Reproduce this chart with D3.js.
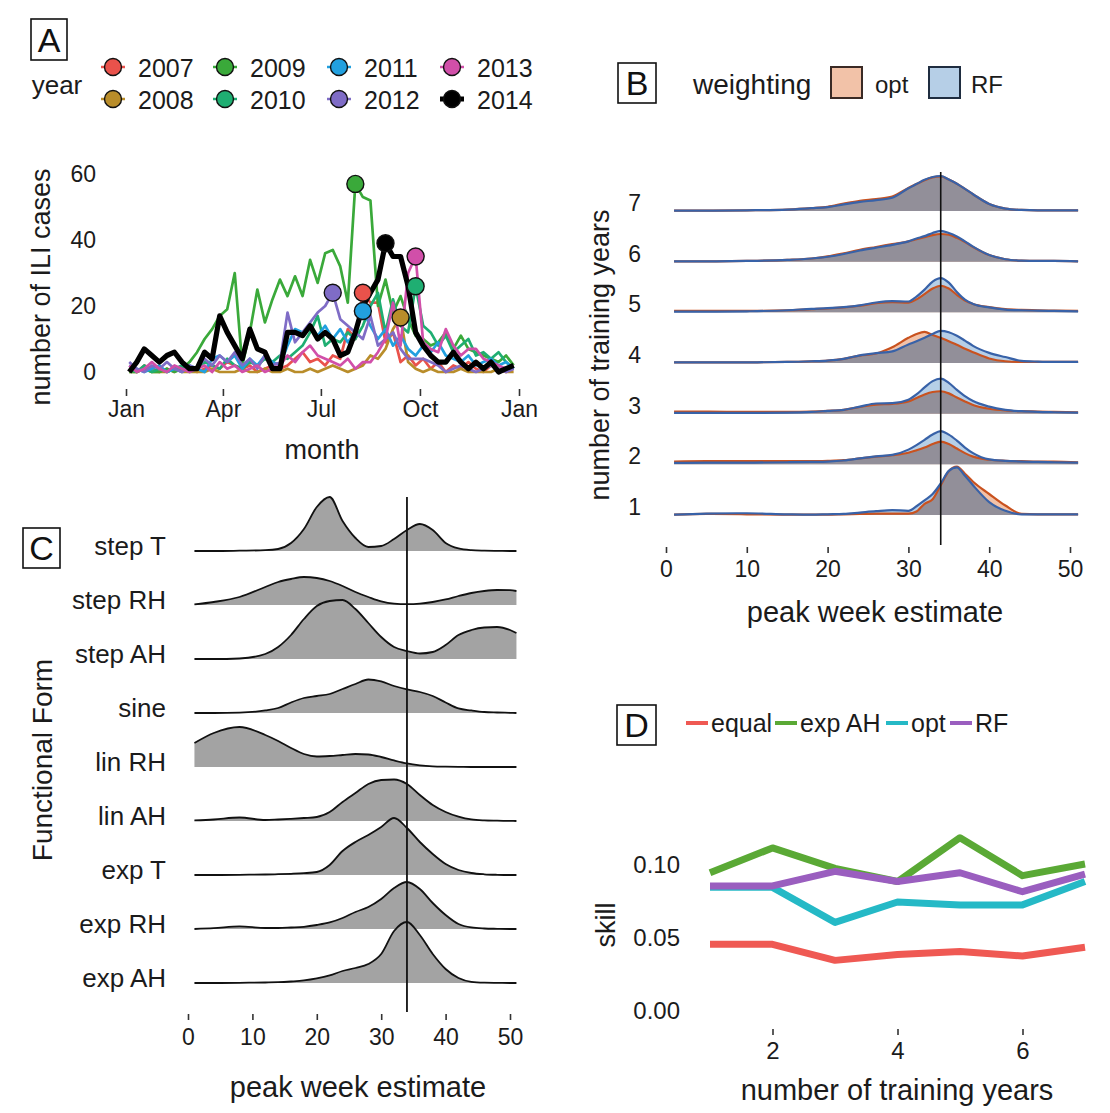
<!DOCTYPE html>
<html>
<head>
<meta charset="utf-8">
<script src="https://cdn.jsdelivr.net/npm/d3@7"></script>
<style>
  html, body { margin: 0; padding: 0; background: #ffffff; }
  svg { display: block; font-family: "Liberation Sans", Arial, sans-serif; }
</style>
</head>
<body>
<svg id="fig" width="1110" height="1113"></svg>
<script>
// ---------------- Panel A: weekly ILI cases per season ----------------
const years = ["2007", "2008", "2009", "2010", "2011", "2012", "2013", "2014"];
const yearColors = ["#e9524b", "#b98d2a", "#3aa93a", "#1fae72", "#22a0df", "#7f6cc6", "#d14fa9", "#000000"];
const cases2007 = [1,0,2,1,0,1,0,2,1,0,1,2,1,3,2,1,2,0,1,2,1,2,4,6,3,4,2,5,4,13,10,24,21,21,9,12,3,5,2,4,1,3,0,2,1,3,1,0,2,1,0,1];
const cases2008 = [0,0,1,0,0,0,1,0,0,0,0,1,0,0,0,1,0,0,1,0,0,1,0,0,1,0,1,2,1,0,1,2,5,4,7,13,16.5,3,1,0,1,0,0,0,1,0,0,0,0,1,0,0];
const cases2009 = [0,0,1,0,0,1,0,1,3,6,10,13,17,19,30,2,12,25,15,22,28,23,29,23,34,27,36,37,32,21,57,53,52,20,28,18,23,16,11,10,8,9,12,7,11,7,6,5,4,3,5,2];
const cases2010 = [1,0,2,0,1,0,1,2,0,1,3,2,1,4,2,1,3,2,4,3,5,4,6,8,12,17,8,10,9,12,10,14,20,24,12,22,14,12,26,14,12,8,11,6,8,10,5,6,4,6,3,1];
const cases2011 = [2,1,0,1,2,0,1,0,2,1,0,4,5,3,5,1,4,2,5,3,2,8,13,12,14,11,14,10,13,9,12,18.5,14,10,13,8,11,7,5,8,6,9,5,4,3,5,2,3,4,2,3,1];
const cases2012 = [3,1,0,2,1,3,1,0,2,1,4,2,5,3,6,2,4,1,5,2,3,18,9,12,15,18,20,24,16,14,12,10,17,8,10,12,7,4,4,4,3,2,0,1,2,1,0,1,2,1,0,1];
const cases2013 = [2,0,1,3,1,0,2,1,0,1,2,0,3,1,2,0,1,2,0,1,2,5,3,6,8,5,4,3,2,4,1,3,3,6,10,21,8,30,35,9,7,6,13,8,5,7,7,4,3,2,1,2];
const cases2014 = [0,3,7,5,3,5,6,3,1,1,6,4,17,12,8,4,13,7,6,1,1,12,12,11,14,10,12,10,5,6,12,20,24,28,39,35,35,26,12,8,5,3,3,6,3,1,3,1,3,0,1,2];
const casesByYear = [cases2007, cases2008, cases2009, cases2010, cases2011, cases2012, cases2013, cases2014];
const caseTicks = [0, 20, 40, 60];
const monthTicks = [new Date(2014, 0, 1), new Date(2014, 3, 1), new Date(2014, 6, 1), new Date(2014, 9, 1), new Date(2015, 0, 1)];

// ---------------- Panel B: peak week estimates by number of training years ----------------
const trainingRows = [1, 2, 3, 4, 5, 6, 7];
const ridgeWeeks = [1,5,10,15,18,20,22,24,26,28,30,31,32,33,34,35,36,37,38,40,42,44,46,48,51];
// density in % per week
const optDensity = [
  [0.1,0.3,0.2,0.1,0.1,0.1,0.2,0.3,0.4,0.4,0.4,1.0,3.2,4.5,8.5,12.5,13.8,11.8,9.5,6.0,2.7,0.3,0.2,0.2,0.2],
  [0.8,0.9,0.9,0.9,0.9,1.0,1.2,1.7,2.2,2.6,3.3,4.0,4.8,5.8,6.5,5.8,4.5,3.2,2.2,1.3,1.0,0.9,0.8,0.8,0.6],
  [0.6,0.6,0.5,0.5,0.6,0.8,1.1,1.9,2.6,2.8,3.5,4.5,5.5,6.2,6.4,5.8,4.6,3.5,2.5,1.4,0.9,0.7,0.6,0.5,0.4],
  [0.2,0.2,0.2,0.3,0.5,0.7,1.2,2.1,2.7,4.5,7.2,8.3,8.9,8.0,7.2,6.2,5.2,4.1,3.1,1.3,0.5,0.3,0.3,0.3,0.3],
  [0.4,0.4,0.4,0.6,0.9,1.1,1.4,1.9,2.6,2.9,2.8,3.7,5.2,6.8,7.6,6.8,5.0,3.4,2.4,1.5,0.9,0.7,0.6,0.5,0.4],
  [0.1,0.1,0.2,0.5,0.9,1.5,2.4,3.4,4.2,5.0,5.8,6.4,7.0,7.6,7.9,7.7,6.8,5.6,4.2,1.9,0.7,0.3,0.2,0.2,0.1],
  [0.1,0.1,0.2,0.4,0.8,1.2,2.1,2.9,3.4,4.1,6.6,7.7,8.8,9.6,9.9,9.0,7.8,6.3,4.8,2.0,0.7,0.3,0.2,0.2,0.2]
];
const rfDensity = [
  [0.1,0.4,0.5,0.2,0.1,0.2,0.3,0.7,1.1,1.4,1.2,2.5,4.2,6.0,9.0,12.6,13.6,11.2,8.5,3.7,1.2,0.2,0.2,0.2,0.2],
  [0.4,0.5,0.5,0.6,0.7,0.8,1.1,1.7,2.3,2.7,4.2,5.5,7.0,8.5,9.5,8.5,6.8,4.8,3.2,1.4,1.0,0.8,0.7,0.6,0.5],
  [0.2,0.2,0.2,0.3,0.5,0.8,1.1,2.0,2.9,3.0,4.0,5.5,7.5,9.3,10.0,8.8,6.8,5.0,3.6,2.0,1.1,0.7,0.5,0.4,0.3],
  [0.2,0.2,0.2,0.3,0.5,0.7,1.2,2.2,2.8,3.3,5.3,6.2,7.2,8.3,9.2,8.8,7.8,6.4,4.9,2.9,1.7,0.6,0.4,0.3,0.3],
  [0.2,0.2,0.3,0.6,1.0,1.2,1.5,2.0,2.8,3.2,3.1,4.5,6.5,8.8,9.8,8.5,5.8,3.6,2.4,1.4,0.8,0.6,0.5,0.4,0.3],
  [0.1,0.1,0.2,0.5,0.9,1.4,2.2,3.2,4.0,4.8,5.8,6.6,7.3,8.2,8.8,8.2,7.2,5.8,4.3,1.9,0.7,0.3,0.2,0.2,0.1],
  [0.1,0.1,0.2,0.4,0.8,1.1,1.9,2.6,3.1,3.8,6.5,7.7,8.9,9.7,10.0,9.0,7.8,6.3,4.8,2.0,0.7,0.3,0.2,0.2,0.2]
];
const observedPeakWeek = 34;
const weekTicks = [0, 10, 20, 30, 40, 50];

// ---------------- Panel C: peak week estimates by functional form ----------------
const forms = ["step T", "step RH", "step AH", "sine", "lin RH", "lin AH", "exp T", "exp RH", "exp AH"];
const formWeeks = [1,4,8,12,14,16,18,20,22,24,26,28,30,32,34,36,38,40,42,44,46,48,50,51];
const formDensity = [
  [0,0,0.08,0.2,0.5,2,5.5,11,13.5,7.5,3.25,1,1.25,3,5.25,6.75,5.25,2,0.63,0.2,0.08,0.03,0,0],
  [0.13,0.75,2,4.5,5.75,6.5,7,6.75,6,4.75,3.25,2,0.88,0.33,0.2,0.33,0.75,1.38,2.25,3,3.5,3.75,3.7,3.5],
  [0,0,0.13,1.25,3,6,10,13.25,14.5,14.75,12.5,9,5.5,3,2,1.38,1.75,3.5,6,7.25,7.88,8,7.25,6.5],
  [0,0,0.1,0.63,1.25,2.63,3.75,4.25,4.75,6,7.25,8.38,7.88,6.75,5.88,5.25,4.25,2.63,1.13,0.63,0.25,0.13,0.05,0],
  [6,8.5,10,8,6.5,4.75,3.25,2.63,2.75,3,3.25,3.13,2.5,1.63,0.88,0.43,0.18,0.08,0.03,0,0,0,0,0],
  [0.13,0.38,0.88,0.25,0.38,0.55,0.75,1,2.25,4.75,7,9.25,10.25,10.38,9.25,6.5,4,2.25,1.08,0.38,0.15,0.08,0.03,0],
  [0,0,0.05,0.13,0.2,0.3,0.45,0.75,2.5,6,8.25,10,12,14.25,11.75,8.25,5.25,2.75,1.25,0.5,0.18,0.05,0,0],
  [0,0.2,0.65,0.25,0.25,0.38,0.55,1,1.63,2.75,4.25,5.5,7.5,10.25,11.75,10,6.5,3.5,1.25,0.38,0.13,0.05,0,0],
  [0,0,0.05,0.13,0.2,0.38,0.63,1.13,1.88,3,3.75,4.75,7.25,13,15.25,12,7.25,3.5,1.25,0.3,0.08,0.03,0,0]
];

// ---------------- Panel D: forecast skill ----------------
const methods = ["equal", "exp AH", "opt", "RF"];
const methodColors = ["#ef5953", "#5aa935", "#25b9c6", "#9a5ebf"];
const trainingYears = [1, 2, 3, 4, 5, 6, 7];
const skillEqual = [0.045, 0.045, 0.034, 0.038, 0.040, 0.037, 0.043];
const skillExpAH = [0.094, 0.111, 0.097, 0.088, 0.118, 0.092, 0.100];
const skillOpt = [0.084, 0.084, 0.060, 0.074, 0.072, 0.072, 0.088];
const skillRF = [0.085, 0.085, 0.095, 0.088, 0.094, 0.081, 0.093];
const skillByMethod = [skillEqual, skillExpAH, skillOpt, skillRF];
const skillTicks = [0, 0.05, 0.10];
const yearTicks = [2, 4, 6];

// ====================================================================
const svg = d3.select("#fig");
const INK = "#1b1b1b";

function panelTag(x, y, w, h, letter) {
  svg.append("rect").attr("x", x).attr("y", y).attr("width", w).attr("height", h)
    .attr("fill", "none").attr("stroke", "#111").attr("stroke-width", 1.6);
  svg.append("text").attr("x", x + w / 2).attr("y", y + h / 2 + 12)
    .attr("text-anchor", "middle").attr("font-size", 34).attr("fill", "#111").text(letter);
}

function styleBottomAxis(g, size) {
  g.select(".domain").remove();
  g.selectAll(".tick line").attr("stroke", "#333").attr("stroke-width", 1.6);
  g.selectAll(".tick text").attr("font-size", size).attr("fill", INK)
    .attr("font-family", "'Liberation Sans', Arial, sans-serif");
}

function text(x, y, s, size, anchor, rotate) {
  const t = svg.append("text").attr("font-size", size).attr("fill", INK)
    .attr("text-anchor", anchor || "middle").attr("dominant-baseline", "central").text(s);
  if (rotate) t.attr("transform", `translate(${x},${y}) rotate(${rotate})`);
  else t.attr("x", x).attr("y", y);
  return t;
}

// ---------------- Panel A ----------------
panelTag(31, 19, 36, 41, "A");
text(57, 85, "year", 26);

const legendCols = [113, 225, 339, 452];
const legendRows = [67, 99];
years.forEach((yr, k) => {
  const cx = legendCols[Math.floor(k / 2)], cy = legendRows[k % 2];
  const black = yearColors[k] === "#000000";
  svg.append("line").attr("x1", cx - 12).attr("x2", cx + 12).attr("y1", cy).attr("y2", cy)
    .attr("stroke", yearColors[k]).attr("stroke-width", black ? 5 : 2.5);
  svg.append("circle").attr("cx", cx).attr("cy", cy).attr("r", 8.5)
    .attr("fill", yearColors[k]).attr("stroke", "#111").attr("stroke-width", 1.4);
  text(cx + 25, cy + 1, yr, 25, "start");
});

const xA = d3.scaleTime().domain([new Date(2014, 0, 1), new Date(2015, 0, 1)]).range([126, 519]);
const yA = d3.scaleLinear().domain([0, 60]).range([372, 174]);
const weekDate = i => new Date(2014, 0, 4 + 7 * i);
const caseLine = d3.line().x((d, i) => xA(weekDate(i))).y(d => yA(d));

casesByYear.forEach((vals, k) => {
  const black = yearColors[k] === "#000000";
  svg.append("path").datum(vals).attr("d", caseLine).attr("fill", "none")
    .attr("stroke", yearColors[k]).attr("stroke-width", black ? 5.2 : 2.7)
    .attr("stroke-linejoin", "round");
});
casesByYear.forEach((vals, k) => {
  const i = d3.maxIndex(vals);
  svg.append("circle").attr("cx", xA(weekDate(i))).attr("cy", yA(vals[i])).attr("r", 8.5)
    .attr("fill", yearColors[k]).attr("stroke", "#111").attr("stroke-width", 1.4);
});

caseTicks.forEach(v => text(96, yA(v), v, 23, "end"));
svg.append("g").attr("transform", "translate(0,389)")
  .call(d3.axisBottom(xA).tickValues(monthTicks).tickFormat(d3.timeFormat("%b")).tickSize(7).tickPadding(5))
  .call(g => styleBottomAxis(g, 23));
text(322, 450, "month", 27);
text(41, 287, "number of ILI cases", 27, "middle", -90);

// ---------------- Panel B ----------------
panelTag(618, 63, 38, 40, "B");
text(693, 84, "weighting", 28, "start");
svg.append("rect").attr("x", 831).attr("y", 67).attr("width", 31).attr("height", 31)
  .attr("fill", "#f2c2a8").attr("stroke", "#3a2a25").attr("stroke-width", 2);
text(875, 84, "opt", 24, "start");
svg.append("rect").attr("x", 929).attr("y", 67).attr("width", 31).attr("height", 31)
  .attr("fill", "#b6cfe7").attr("stroke", "#1f2d40").attr("stroke-width", 2);
text(971, 84, "RF", 24, "start");

const xB = d3.scaleLinear().domain([0, 50]).range([666, 1070]);
const rowB = d3.scaleLinear().domain([1, 7]).range([515, 211]);
const hB = d3.scaleLinear().domain([0, 10]).range([0, 35]);

trainingRows.slice().reverse().forEach(r => {
  const base = rowB(r);
  const opt = optDensity[r - 1], rf = rfDensity[r - 1];
  const both = opt.map((v, i) => Math.min(v, rf[i]));
  const area = d3.area().x((d, i) => xB(ridgeWeeks[i])).y0(base).y1(d => base - hB(d)).curve(d3.curveMonotoneX);
  const line = d3.line().x((d, i) => xB(ridgeWeeks[i])).y(d => base - hB(d)).curve(d3.curveMonotoneX);
  svg.append("path").datum(rf).attr("d", area).attr("fill", "#b6cfe7");
  svg.append("path").datum(opt).attr("d", area).attr("fill", "#f2c2a8");
  svg.append("path").datum(both).attr("d", area).attr("fill", "#928f99");
  svg.append("path").datum(opt).attr("d", line).attr("fill", "none").attr("stroke", "#c9521f").attr("stroke-width", 2.2);
  svg.append("path").datum(rf).attr("d", line).attr("fill", "none").attr("stroke", "#3862a8").attr("stroke-width", 2.2);
  text(641, base - 8, r, 23, "end");
});
svg.append("line").attr("x1", xB(observedPeakWeek)).attr("x2", xB(observedPeakWeek))
  .attr("y1", 172).attr("y2", 545).attr("stroke", "#111").attr("stroke-width", 1.6);
svg.append("g").attr("transform", "translate(0,547)")
  .call(d3.axisBottom(xB).tickValues(weekTicks).tickSize(6).tickPadding(8))
  .call(g => styleBottomAxis(g, 23));
text(875, 612, "peak week estimate", 29);
text(600, 355, "number of training years", 27, "middle", -90);

// ---------------- Panel C ----------------
panelTag(23, 528, 37, 40, "C");
const xC = d3.scaleLinear().domain([0, 50]).range([188, 510]);
const rowC = d3.scaleLinear().domain([0, forms.length - 1]).range([551, 983]);
const hC = d3.scaleLinear().domain([0, 10]).range([0, 40]);
forms.forEach((f, k) => {
  const base = rowC(k);
  const vals = formDensity[k];
  const area = d3.area().x((d, i) => xC(formWeeks[i])).y0(base).y1(d => base - hC(d)).curve(d3.curveMonotoneX);
  const line = d3.line().x((d, i) => xC(formWeeks[i])).y(d => base - hC(d)).curve(d3.curveMonotoneX);
  svg.append("path").datum(vals).attr("d", area).attr("fill", "#a3a3a3");
  svg.append("path").datum(vals).attr("d", line).attr("fill", "none").attr("stroke", "#111").attr("stroke-width", 1.8);
  text(166, base - 5, f, 26, "end");
});
svg.append("line").attr("x1", xC(observedPeakWeek)).attr("x2", xC(observedPeakWeek))
  .attr("y1", 497).attr("y2", 1012).attr("stroke", "#111").attr("stroke-width", 1.8);
svg.append("g").attr("transform", "translate(0,1014)")
  .call(d3.axisBottom(xC).tickValues(weekTicks).tickSize(6).tickPadding(9))
  .call(g => styleBottomAxis(g, 23));
text(358, 1087, "peak week estimate", 29);
text(42, 760, "Functional Form", 28, "middle", -90);

// ---------------- Panel D ----------------
panelTag(617, 705, 39, 40, "D");
const legendX = [686, 775, 886, 950];
methods.forEach((m, k) => {
  const x0 = legendX[k];
  svg.append("line").attr("x1", x0).attr("x2", x0 + 22).attr("y1", 723).attr("y2", 723)
    .attr("stroke", methodColors[k]).attr("stroke-width", 4);
  text(x0 + 25, 723, m, 25, "start");
});

const xD = d3.scaleLinear().domain([1, 7]).range([710, 1085]);
const yD = d3.scaleLinear().domain([0, 0.1]).range([1010, 864]);
const skillLine = d3.line().x((d, i) => xD(trainingYears[i])).y(d => yD(d));
skillByMethod.forEach((vals, k) => {
  svg.append("path").datum(vals).attr("d", skillLine).attr("fill", "none")
    .attr("stroke", methodColors[k]).attr("stroke-width", 7).attr("stroke-linejoin", "round");
});
skillTicks.forEach(v => text(680, yD(v), d3.format(".2f")(v), 24, "end"));
svg.append("g").attr("transform", "translate(0,1029)")
  .call(d3.axisBottom(xD).tickValues(yearTicks).tickFormat(d3.format("d")).tickSize(6).tickPadding(7))
  .call(g => styleBottomAxis(g, 24));
text(897, 1090, "number of training years", 29);
text(606, 925, "skill", 27, "middle", -90);
</script>
</body>
</html>
